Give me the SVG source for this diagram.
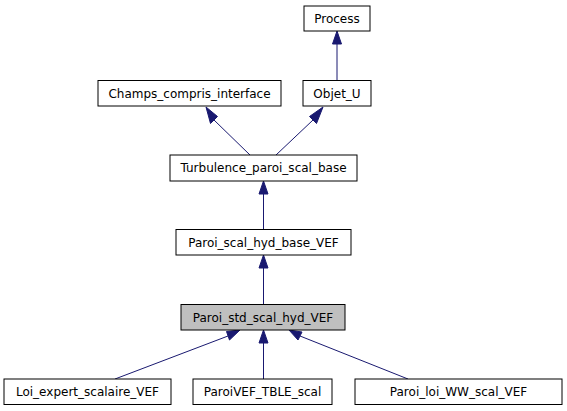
<svg xmlns="http://www.w3.org/2000/svg" width="567" height="411" viewBox="0 0 567 411">
<defs>
<style>
.n rect{fill:#ffffff;stroke:#000000;stroke-width:1}
.n text{font-family:"DejaVu Sans",sans-serif;font-size:12px;fill:#000000;text-anchor:middle}
#edges line{stroke:#191970;stroke-width:1}
#edges polygon{fill:#191970;stroke:#191970;stroke-width:1}
</style>
</defs>
<rect width="567" height="411" fill="#ffffff"/>
<g id="edges">
<line x1="337" y1="80" x2="337" y2="44"/>
<polygon points="332.5,44 337,31 341.5,44"/>
<line x1="250" y1="155" x2="214" y2="120"/>
<polygon points="210.5,123.5 206,107 217.5,116.5"/>
<line x1="276" y1="155" x2="313" y2="120"/>
<polygon points="309.5,116.5 323,107 316.5,123.5"/>
<line x1="263.5" y1="230" x2="263.5" y2="194"/>
<polygon points="259,194 263.5,181 268,194"/>
<line x1="263.5" y1="304" x2="263.5" y2="268"/>
<polygon points="259,268 263.5,255 268,268"/>
<line x1="115" y1="379" x2="228" y2="336"/>
<polygon points="226.5,331.5 240,330 229.5,340"/>
<line x1="263.5" y1="379" x2="263.5" y2="343"/>
<polygon points="259,343 263.5,330 268,343"/>
<line x1="408" y1="379" x2="300" y2="336"/>
<polygon points="298,340 289,330 302,332"/>
</g>
<g id="node-process" class="n"><rect x="304" y="6" width="66" height="25"/><text x="337" y="22.5">Process</text></g>
<g id="node-champs" class="n"><rect x="98" y="80.5" width="183" height="25.5"/><text x="189.5" y="97.5">Champs_compris_interface</text></g>
<g id="node-objet" class="n"><rect x="303" y="80.5" width="68" height="25.5"/><text x="337" y="97.5">Objet_U</text></g>
<g id="node-turb" class="n"><rect x="170" y="155" width="187" height="26"/><text x="263.5" y="172">Turbulence_paroi_scal_base</text></g>
<g id="node-psbase" class="n"><rect x="176" y="229.5" width="175" height="25.5"/><text x="263.5" y="246.5">Paroi_scal_hyd_base_VEF</text></g>
<g id="node-pstd" class="n"><rect x="181" y="304.5" width="164" height="25.5" style="fill:#bfbfbf"/><text x="263" y="321.5">Paroi_std_scal_hyd_VEF</text></g>
<g id="node-loi" class="n"><rect x="4" y="379" width="167" height="25.5"/><text x="87.5" y="396">Loi_expert_scalaire_VEF</text></g>
<g id="node-tble" class="n"><rect x="193" y="379" width="139" height="25.5"/><text x="262.5" y="396">ParoiVEF_TBLE_scal</text></g>
<g id="node-ww" class="n"><rect x="355" y="379" width="207" height="25.5"/><text x="458.5" y="396">Paroi_loi_WW_scal_VEF</text></g>
</svg>
